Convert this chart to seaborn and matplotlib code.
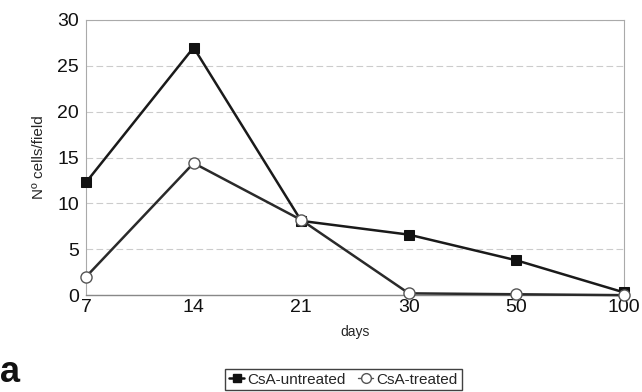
import matplotlib
matplotlib.use("Agg")
import matplotlib.pyplot as plt
import seaborn as sns
import pandas as pd

days = ["7", "14", "21", "30", "50", "100"]
untreated = [12.3, 27.0, 8.1, 6.6, 3.8, 0.3]
treated = [2.0, 14.4, 8.2, 0.2, 0.1, 0.0]
series_names = ["CsA-untreated", "CsA-treated"]

sns.set_style("white")
plt.rcParams["font.family"] = ["Liberation Sans", "DejaVu Sans"]

df = pd.DataFrame({
    "days": days * 2,
    "value": untreated + treated,
    "series": [series_names[0]] * len(days) + [series_names[1]] * len(days),
})

fig = plt.figure(figsize=(6.42, 3.92), dpi=100)
ax = fig.add_axes([0.134, 0.247, 0.838, 0.702])

sns.lineplot(data=df, x="days", y="value", hue="series", style="series",
             palette={series_names[0]: "#1a1a1a", series_names[1]: "#2a2a2a"},
             markers={series_names[0]: "s", series_names[1]: "o"},
             dashes=False, linewidth=1.8, ax=ax, legend=False, sort=False)

lines = ax.get_lines()
lines[0].set_markersize(7)
lines[0].set_markerfacecolor("#111111")
lines[0].set_markeredgecolor("#111111")
lines[1].set_markersize(8)
lines[1].set_markerfacecolor("white")
lines[1].set_markeredgecolor("#555555")
lines[1].set_markeredgewidth(1.0)
for ln in lines:
    ln.set_clip_on(False)
    ln.set_zorder(5)

ax.set_xlim(0, len(days) - 1)
ax.set_ylim(0, 30)
ax.set_yticks(range(0, 31, 5))
ax.yaxis.grid(True, color="#cccccc", linestyle=(0, (6, 3)), linewidth=0.8)
ax.xaxis.grid(False)
for s in ["left", "top", "right"]:
    ax.spines[s].set_color("#aaaaaa")
    ax.spines[s].set_linewidth(0.8)
ax.spines["bottom"].set_color("#888888")
ax.spines["bottom"].set_linewidth(1.0)
ax.tick_params(axis="both", length=0, labelsize=14, colors="#111111")
ax.tick_params(axis="y", pad=5)
ax.tick_params(axis="x", pad=3)
ax.set_xlabel("days", fontsize=10, labelpad=6)
ax.set_ylabel("Nº cells/field", fontsize=11, labelpad=8)

handles = [
    plt.Line2D([], [], color="#111111", lw=1.8, marker="s", markersize=6,
               markerfacecolor="#111111"),
    plt.Line2D([], [], color="#555555", lw=1.0, marker="o", markersize=7,
               markerfacecolor="white", markeredgecolor="#555555"),
]
leg = fig.legend(handles, series_names, loc="lower center",
                 bbox_to_anchor=(0.535, 0.0), ncol=2, fontsize=11,
                 frameon=True, fancybox=False, edgecolor="#111111",
                 handlelength=1.0, handletextpad=0.2, columnspacing=0.8,
                 borderpad=0.25, borderaxespad=0.1)
leg.get_frame().set_linewidth(1.0)

fig.text(0.0, 0.025, "a", fontsize=26, fontweight="bold", color="#111111")

fig.savefig("out.png", dpi=100)
